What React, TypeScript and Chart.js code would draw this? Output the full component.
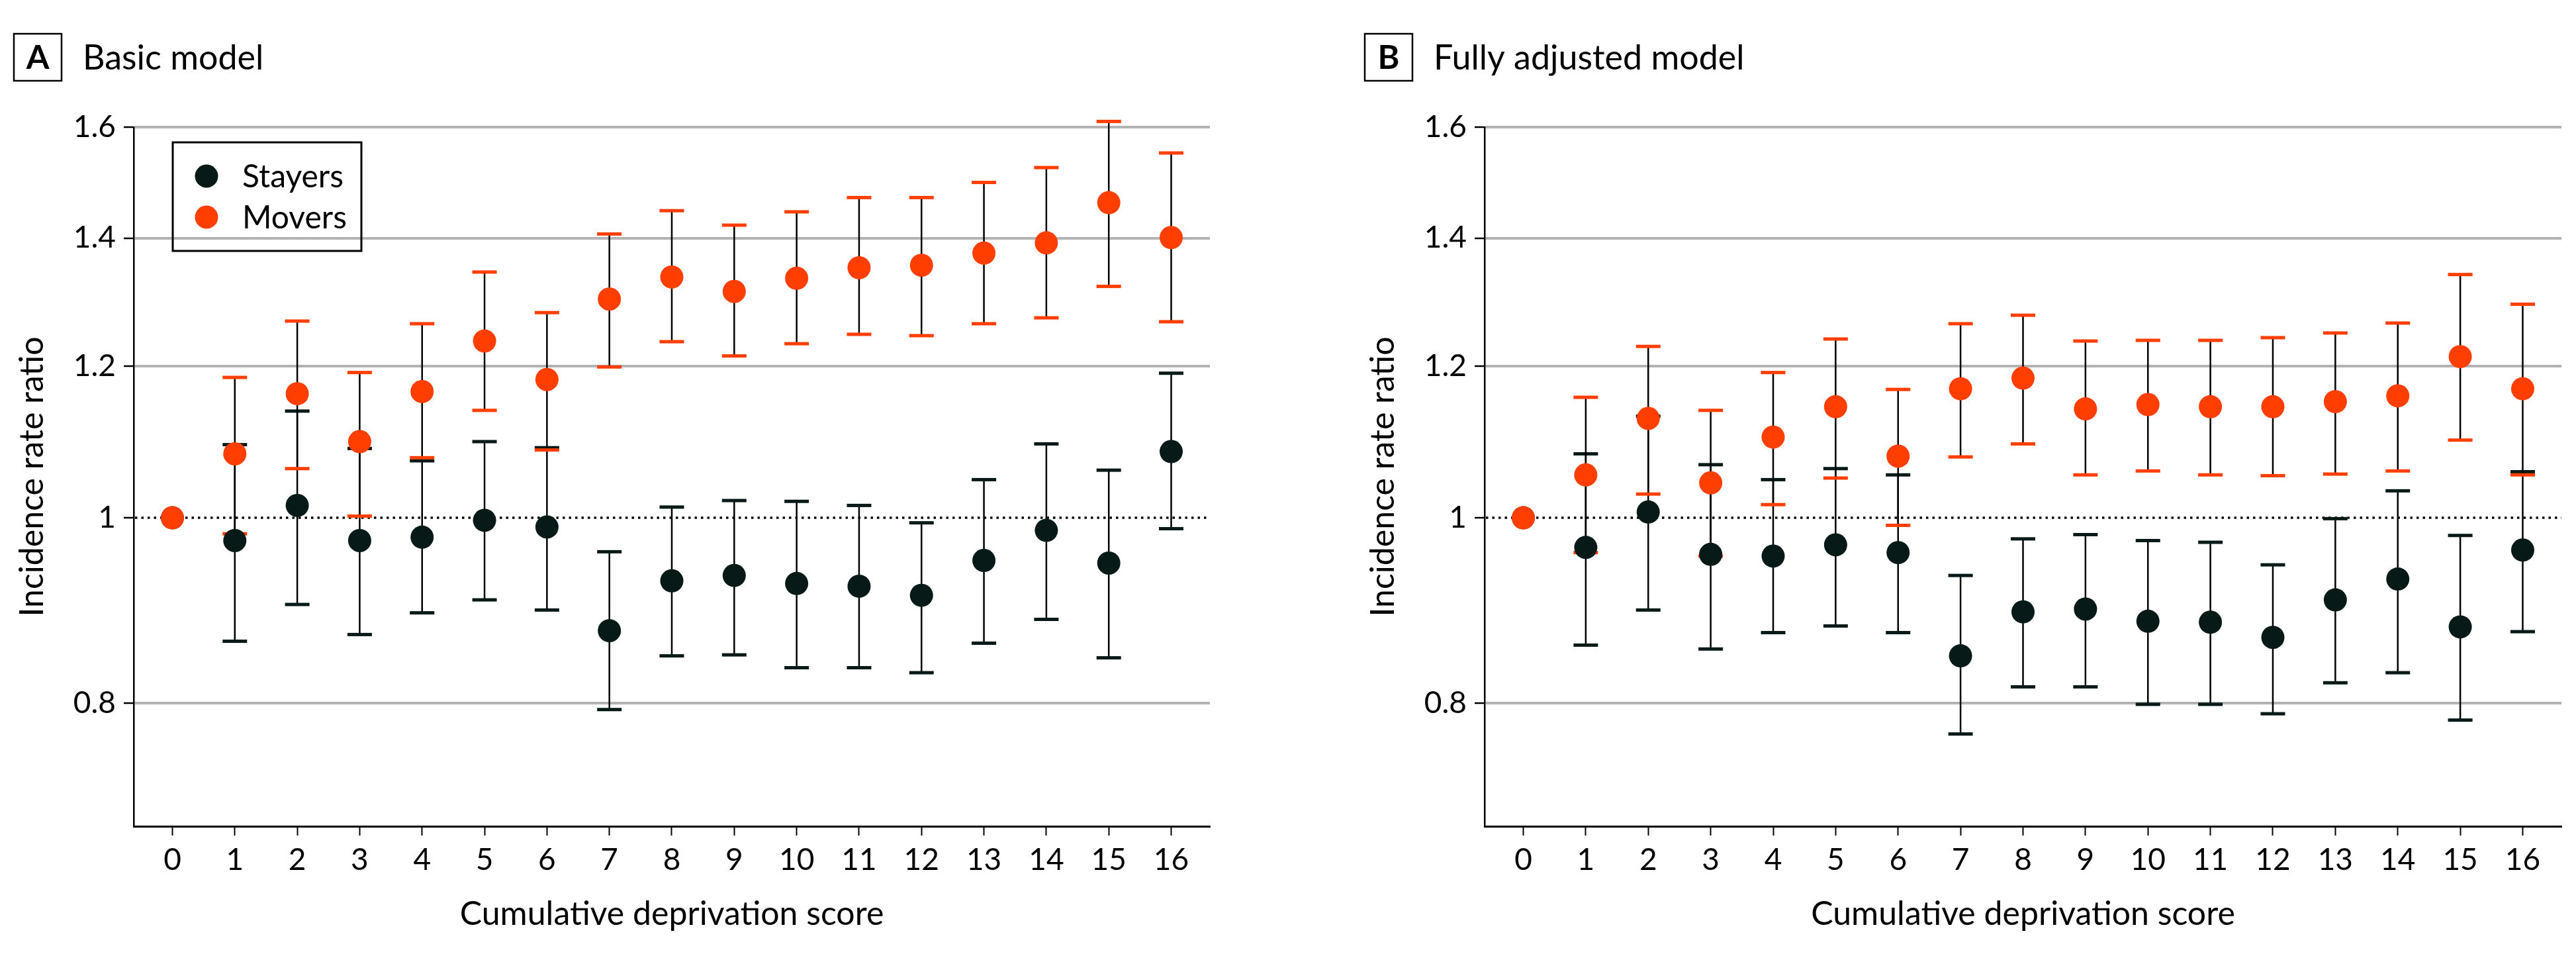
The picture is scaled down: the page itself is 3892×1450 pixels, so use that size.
import React, { useEffect, useRef } from 'react';
import { Chart, registerables } from 'chart.js';

Chart.register(...registerables);

// ---------- data ----------
const categories = [0, 1, 2, 3, 4, 5, 6, 7, 8, 9, 10, 11, 12, 13, 14, 15, 16];
const yTickValues = [0.8, 1, 1.2, 1.4, 1.6];

// Panel A: basic model
const basicStayers = [1, 0.973, 1.015, 0.973, 0.977, 0.997, 0.989, 0.873, 0.927, 0.933, 0.924, 0.921, 0.911, 0.95, 0.985, 0.947, 1.083];
const basicStayersLower = [null, 0.862, 0.901, 0.869, 0.892, 0.906, 0.895, 0.794, 0.847, 0.848, 0.835, 0.835, 0.83, 0.86, 0.885, 0.845, 0.987];
const basicStayersUpper = [null, 1.092, 1.137, 1.087, 1.071, 1.096, 1.088, 0.96, 1.013, 1.021, 1.02, 1.015, 0.994, 1.047, 1.093, 1.059, 1.19];
const basicMovers = [1, 1.08, 1.161, 1.096, 1.164, 1.237, 1.181, 1.301, 1.336, 1.313, 1.334, 1.351, 1.355, 1.375, 1.392, 1.461, 1.401];
const basicMoversLower = [null, 0.981, 1.061, 1.002, 1.075, 1.138, 1.085, 1.199, 1.236, 1.215, 1.233, 1.247, 1.245, 1.263, 1.272, 1.321, 1.266];
const basicMoversUpper = [null, 1.184, 1.267, 1.191, 1.263, 1.344, 1.28, 1.407, 1.447, 1.422, 1.445, 1.47, 1.47, 1.497, 1.524, 1.611, 1.551];

// Panel B: fully adjusted model
const adjStayers = [1, 0.965, 1.007, 0.957, 0.955, 0.968, 0.959, 0.847, 0.893, 0.896, 0.883, 0.882, 0.866, 0.906, 0.929, 0.877, 0.962];
const adjStayersLower = [null, 0.858, 0.895, 0.854, 0.871, 0.878, 0.871, 0.771, 0.816, 0.816, 0.799, 0.799, 0.79, 0.82, 0.83, 0.784, 0.872];
const adjStayersUpper = [null, 1.08, 1.13, 1.066, 1.047, 1.061, 1.053, 0.933, 0.975, 0.98, 0.973, 0.971, 0.945, 0.999, 1.033, 0.979, 1.057];
const adjMovers = [1, 1.053, 1.127, 1.043, 1.102, 1.143, 1.077, 1.168, 1.183, 1.14, 1.146, 1.143, 1.143, 1.15, 1.158, 1.214, 1.168];
const adjMoversLower = [null, 0.959, 1.029, 0.955, 1.016, 1.049, 0.991, 1.076, 1.093, 1.053, 1.058, 1.053, 1.052, 1.054, 1.058, 1.098, 1.053];
const adjMoversUpper = [null, 1.156, 1.229, 1.138, 1.191, 1.24, 1.167, 1.263, 1.276, 1.237, 1.238, 1.238, 1.242, 1.249, 1.264, 1.34, 1.293];

const seriesLabels = ['Stayers', 'Movers'];
const xTitle = 'Cumulative deprivation score';
const yTitle = 'Incidence rate ratio';

// ---------- styles ----------
const FONT = 'Lato';
const DARK = '#071a18';
const ORANGE = '#ff3e00';
const GRID = '#b3b3b3';

type PanelProps = {
  letter: string;
  title: string;
  stayers: number[];
  stayersLo: (number | null)[];
  stayersHi: (number | null)[];
  movers: number[];
  moversLo: (number | null)[];
  moversHi: (number | null)[];
  showLegend: boolean;
  width: number;
  padRight: number;
};

function Panel(props: PanelProps) {
  const ref = useRef<HTMLCanvasElement | null>(null);

  useEffect(() => {
    const canvas = ref.current;
    if (!canvas) return;

    const errorBars = {
      id: 'errorBars',
      beforeDatasetsDraw(chart: any) {
        const { ctx, chartArea, scales } = chart;
        const xs = scales.x;
        const ys = scales.y;
        // dotted reference line at 1
        const y1 = ys.getPixelForValue(1);
        ctx.save();
        ctx.strokeStyle = '#000';
        ctx.lineWidth = 3.5;
        ctx.setLineDash([3.5, 6]);
        ctx.beginPath();
        ctx.moveTo(chartArea.left + 2, y1);
        ctx.lineTo(chartArea.right, y1);
        ctx.stroke();
        ctx.restore();

        chart.data.datasets.forEach((ds: any) => {
          const lo = ds.errLo as (number | null)[];
          const hi = ds.errHi as (number | null)[];
          ctx.save();
          categories.forEach((c, i) => {
            if (lo[i] == null || hi[i] == null) return;
            const x = xs.getPixelForValue(c);
            const yl = ys.getPixelForValue(lo[i]);
            const yh = ys.getPixelForValue(hi[i]);
            ctx.strokeStyle = '#000';
            ctx.lineWidth = 2.5;
            ctx.beginPath();
            ctx.moveTo(x, yl);
            ctx.lineTo(x, yh);
            ctx.stroke();
            ctx.fillStyle = ds.capColor;
            ctx.fillRect(x - 18.5, yl - 2.5, 37, 5);
            ctx.fillRect(x - 18.5, yh - 2.5, 37, 5);
          });
          ctx.restore();
        });
      },
    };

    const decorations = {
      id: 'decorations',
      afterDraw(chart: any) {
        const { ctx, chartArea } = chart;
        ctx.save();
        // panel label box
        const bx = chartArea.left - 181;
        const by = 51;
        ctx.strokeStyle = '#000';
        ctx.lineWidth = 2.5;
        ctx.strokeRect(bx, by, 72, 71);
        ctx.fillStyle = '#000';
        ctx.font = `bold 50px ${FONT}`;
        ctx.textAlign = 'center';
        ctx.textBaseline = 'alphabetic';
        ctx.fillText(props.letter, bx + 36, 104);
        ctx.textAlign = 'left';
        ctx.font = `52px ${FONT}`;
        ctx.fillText(props.title, chartArea.left - 77, 105);

        if (props.showLegend) {
          const lx = chartArea.left + 59;
          const ly = chartArea.top + 23;
          ctx.lineWidth = 3;
          ctx.strokeRect(lx, ly, 285, 164);
          const items = [
            { label: seriesLabels[0], color: DARK, y: ly + 51 },
            { label: seriesLabels[1], color: ORANGE, y: ly + 113 },
          ];
          ctx.font = `48px ${FONT}`;
          ctx.textBaseline = 'middle';
          items.forEach((it) => {
            ctx.fillStyle = it.color;
            ctx.beginPath();
            ctx.arc(lx + 51, it.y, 17.5, 0, Math.PI * 2);
            ctx.fill();
            ctx.fillStyle = '#000';
            ctx.fillText(it.label, lx + 105, it.y + 2);
          });
        }
        ctx.restore();
      },
    };

    const chart = new Chart(canvas, {
      type: 'scatter',
      data: {
        datasets: [
          {
            label: seriesLabels[0],
            data: categories.map((c, i) => ({ x: c, y: props.stayers[i] })),
            backgroundColor: DARK,
            borderColor: DARK,
            borderWidth: 0,
            pointRadius: 17.5,
            pointHoverRadius: 17.5,
            order: 2,
            errLo: props.stayersLo,
            errHi: props.stayersHi,
            capColor: DARK,
          } as any,
          {
            label: seriesLabels[1],
            data: categories.map((c, i) => ({ x: c, y: props.movers[i] })),
            backgroundColor: ORANGE,
            borderColor: ORANGE,
            borderWidth: 0,
            pointRadius: 17.5,
            pointHoverRadius: 17.5,
            order: 1,
            errLo: props.moversLo,
            errHi: props.moversHi,
            capColor: ORANGE,
          } as any,
        ],
      },
      options: {
        animation: false,
        responsive: false,
        events: [],
        layout: { padding: { top: 192, right: props.padRight, left: 0, bottom: 0 } },
        plugins: {
          legend: { display: false },
          tooltip: { enabled: false },
        },
        scales: {
          x: {
            type: 'linear',
            min: -0.62,
            max: 16.62,
            afterBuildTicks: (scale: any) => {
              scale.ticks = categories.map((v) => ({ value: v }));
            },
            afterFit: (scale: any) => {
              scale.height = 202;
            },
            ticks: {
              autoSkip: false,
              maxRotation: 0,
              padding: 10,
              color: '#000',
              font: { family: FONT, size: 46 },
              callback: (v: any) => String(v),
            },
            grid: {
              display: true,
              drawOnChartArea: false,
              drawTicks: true,
              tickLength: 14,
              tickColor: '#000',
              tickWidth: 2,
            },
            border: { display: true, color: '#000', width: 3 },
            title: {
              display: true,
              text: xTitle,
              color: '#000',
              font: { family: FONT, size: 50 },
              padding: { top: 0, bottom: 39 },
            },
          },
          y: {
            type: 'logarithmic',
            min: 0.69,
            max: 1.6,
            afterBuildTicks: (scale: any) => {
              scale.ticks = yTickValues.map((v) => ({ value: v }));
            },
            afterFit: (scale: any) => {
              scale.width = 202;
            },
            ticks: {
              autoSkip: false,
              padding: 12,
              color: '#000',
              font: { family: FONT, size: 46 },
              callback: (v: any) => String(v),
            },
            grid: {
              display: true,
              drawTicks: true,
              tickLength: 15,
              tickColor: '#000',
              tickWidth: 2.5,
              lineWidth: 4,
              color: (ctx: any) => (ctx.tick && ctx.tick.value === 1 ? 'rgba(0,0,0,0)' : GRID),
            },
            border: { display: true, color: '#000', width: 2.5 },
            title: {
              display: true,
              text: yTitle,
              color: '#000',
              font: { family: FONT, size: 50 },
              padding: { top: 19, bottom: 0 },
            },
          },
        },
      } as any,
      plugins: [errorBars, decorations],
    });

    return () => chart.destroy();
  }, []);

  return (
    <canvas
      ref={ref}
      width={props.width}
      height={1450}
      style={{ width: props.width, height: 1450, display: 'block' }}
    />
  );
}

export default function App() {
  return (
    <div style={{ position: 'absolute', left: 0, top: 0, width: 3892, height: 1450, background: '#fff', overflow: 'hidden' }}>
      <div style={{ position: 'absolute', left: 0, top: 0 }}>
        <Panel
          letter="A"
          title="Basic model"
          stayers={basicStayers}
          stayersLo={basicStayersLower}
          stayersHi={basicStayersUpper}
          movers={basicMovers}
          moversLo={basicMoversLower}
          moversHi={basicMoversUpper}
          showLegend={true}
          width={2041}
          padRight={213}
        />
      </div>
      <div style={{ position: 'absolute', left: 2041, top: 0 }}>
        <Panel
          letter="B"
          title="Fully adjusted model"
          stayers={adjStayers}
          stayersLo={adjStayersLower}
          stayersHi={adjStayersUpper}
          movers={adjMovers}
          moversLo={adjMoversLower}
          moversHi={adjMoversUpper}
          showLegend={false}
          width={1851}
          padRight={22}
        />
      </div>
    </div>
  );
}
